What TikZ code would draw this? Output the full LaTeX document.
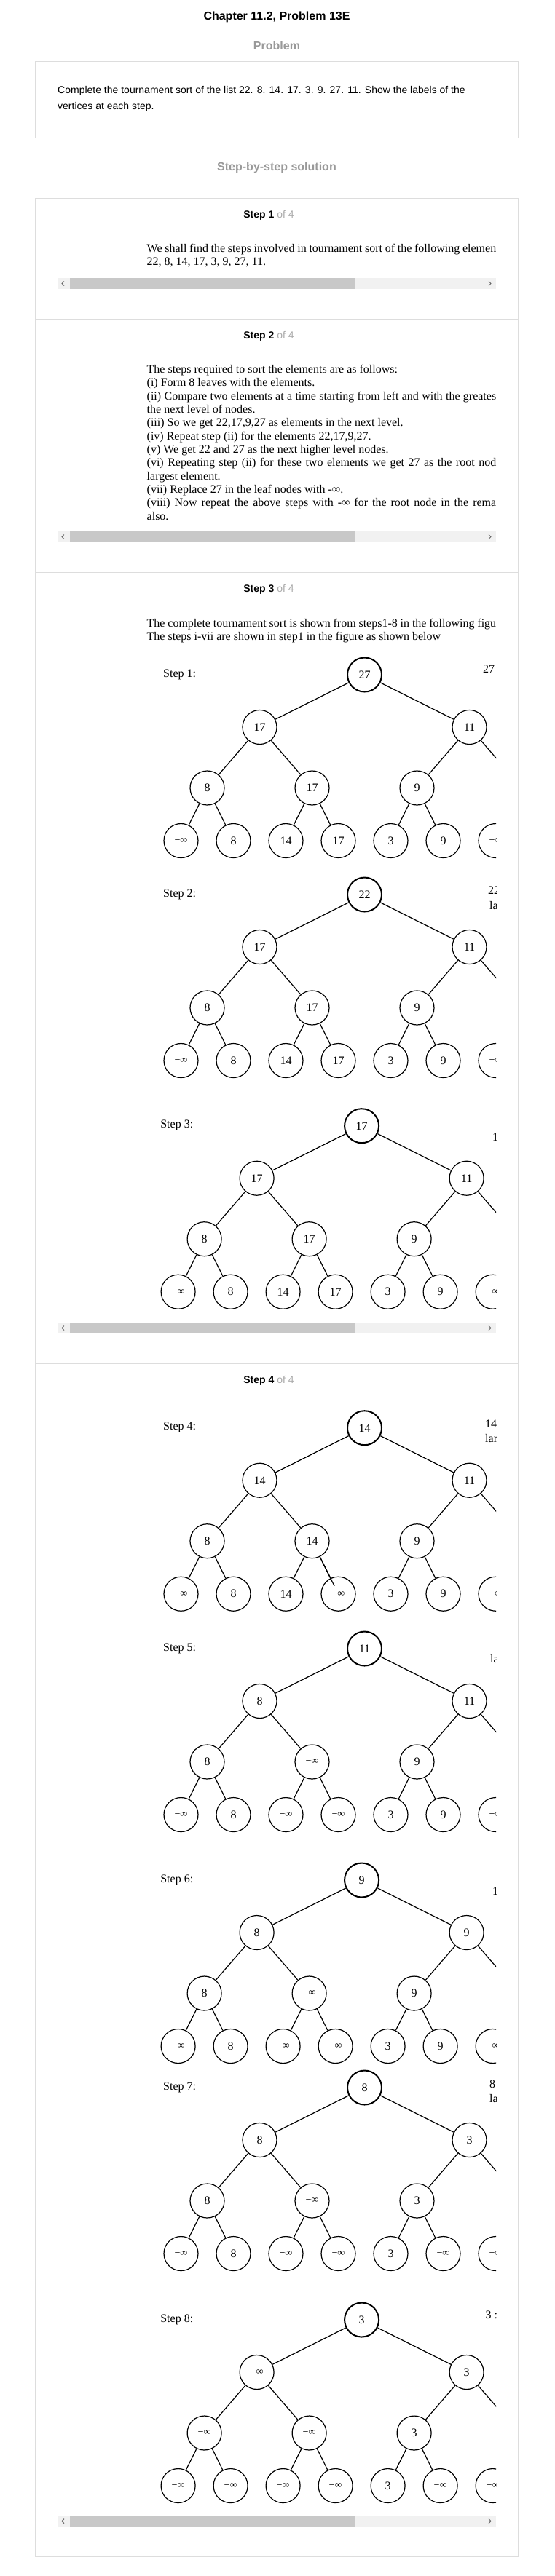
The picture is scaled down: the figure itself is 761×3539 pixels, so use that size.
\documentclass[tikz,border=0pt]{standalone}
\usepackage{fontspec}
\setmainfont{Liberation Serif}
\setsansfont{Liberation Sans}
\usetikzlibrary{positioning}

\definecolor{boxline}{HTML}{DDDDDD}
\definecolor{headgray}{HTML}{999999}
\definecolor{ofgray}{HTML}{AAAAAA}
\definecolor{barbg}{HTML}{F1F1F1}
\definecolor{barthumb}{HTML}{C8C8C8}
\definecolor{arrowgray}{HTML}{666666}

\newcommand{\neginf}{{\fontsize{14}{14}\selectfont −∞}}

\tikzset{
  vert/.style={circle, draw, line width=1.2pt, minimum size=47pt, inner sep=0pt, font=\fontsize{16}{16}\selectfont},
  rootvert/.style={vert, line width=2pt},
  edge/.style={line width=1.2pt},
  body/.style={anchor=base west, inner sep=0pt, font=\fontsize{16}{16}\selectfont},
  title/.style={anchor=base, inner sep=0pt, font=\sffamily\bfseries\fontsize{16}{16}\selectfont},
  subhead/.style={title, text=headgray},
  stephead/.style={anchor=base, inner sep=0pt, font=\sffamily\fontsize{14}{14}\selectfont},
  sanstext/.style={anchor=base west, inner sep=0pt, font=\sffamily\fontsize{14}{14}\selectfont},
  boxrule/.style={draw=boxline, line width=1pt},
}

% one tournament tree: name, root x, root y, step, root, level 1, level 2, leaves
\newcommand{\tourtree}[8]{%
  \node[body] (#1-lab) at ({#2-276.5},{#3+3}) {Step #4:};
  \node[rootvert] (#1-0-0) at (#2,#3) {#5};
  \foreach \lab [count=\k from 0] in {#6}
    \node[vert] (#1-1-\k) at ({#2-144+288*\k},{#3+72}) {\lab};
  \foreach \lab [count=\k from 0] in {#7}
    \node[vert] (#1-2-\k) at ({#2-216+144*\k},{#3+155.5}) {\lab};
  \coordinate (#1-2-3) at ({#2+216},{#3+155.5});
  \foreach \lab [count=\k from 0] in {#8}
    \node[vert] (#1-3-\k) at ({#2-252+72*\k},{#3+228}) {\lab};
  \foreach \k in {0,1}
    \draw[edge] (#1-0-0) -- (#1-1-\k);
  \foreach \k [evaluate=\k as \p using {int(\k/2)}] in {0,...,3}
    \draw[edge] (#1-1-\p) -- (#1-2-\k);
  \foreach \k [evaluate=\k as \p using {int(\k/2)}] in {0,...,6}
    \draw[edge] (#1-2-\p) -- (#1-3-\k);
}

% scroll bar under a step
\newcommand{\scrollbar}[1]{%
  \fill[barbg] (79,#1) rectangle (681,{#1+15});
  \fill[barthumb] (96,#1) rectangle (488,{#1+15});
  \draw[arrowgray, line width=1pt] (88,{#1+4.5}) -- (85,{#1+7.5}) -- (88,{#1+10.5});
  \draw[arrowgray, line width=1pt] (671,{#1+4.5}) -- (674,{#1+7.5}) -- (671,{#1+10.5});
}

\begin{document}
\begin{tikzpicture}[x=1pt, y=-1pt]
\useasboundingbox[fill=white] (0,0) rectangle (761,3539);

% problem
\node[title] (chap) at (380,27.3) {Chapter 11.2, Problem 13E};
\node[subhead] (prob) at (380,68) {Problem};
\draw[boxrule] (48.5,84) rectangle (711.5,189);
\node[sanstext] (q1) at (79,128.3) {Complete the tournament sort of the list 22. 8. 14. 17. 3. 9. 27. 11. Show the labels of the};
\node[sanstext] (q2) at (79,150.7) {vertices at each step.};
\node[subhead] (sol) at (380,234) {Step-by-step solution};

% solution box
\draw[boxrule] (48.5,272.7) rectangle (711.5,3512);
\foreach \y in {438,786,1873}
  \draw[boxrule] (48.5,\y) -- (711.5,\y);

% step 1
\node[stephead] (h1) at (369,299.3) {\textbf{Step 1} \textcolor{ofgray}{of 4}};
\begin{scope}
  \clip (79,310) rectangle (681,381);
  \node[body] (t1a) at (201.5,346) {\makebox[479.5pt][s]{We shall find the steps involved in tournament sort of the following elemen}};
  \node[body] (t1b) at (201.5,364) {22, 8, 14, 17, 3, 9, 27, 11.};
\end{scope}
\scrollbar{382}

% step 2
\node[stephead] (h2) at (369,465) {\textbf{Step 2} \textcolor{ofgray}{of 4}};
\begin{scope}
  \clip (79,480) rectangle (681,729);
  \foreach \ln [count=\i from 0] in {%
    {The steps required to sort the elements are as follows:},
    {(i) Form 8 leaves with the elements.},
    {\makebox[479.5pt][s]{(ii) Compare two elements at a time starting from left and with the greates}},
    {the next level of nodes.},
    {(iii) So we get 22,17,9,27 as elements in the next level.},
    {(iv) Repeat step (ii) for the elements 22,17,9,27.},
    {(v) We get 22 and 27 as the next higher level nodes.},
    {\makebox[479.5pt][s]{(vi) Repeating step (ii) for these two elements we get 27 as the root nod}},
    {largest element.},
    {(vii) Replace 27 in the leaf nodes with -∞.},
    {\makebox[479.5pt][s]{(viii) Now repeat the above steps with -∞ for the root node in the rema}},
    {also.}}
    \node[body] (t2-\i) at (201.5,{512.3+18.35*\i}) {\ln};
\end{scope}
\scrollbar{730}

% step 3
\node[stephead] (h3) at (369,813.3) {\textbf{Step 3} \textcolor{ofgray}{of 4}};
\begin{scope}
  \clip (79,825) rectangle (681,1816);
  \node[body] (t3a) at (201.5,861) {\makebox[479.5pt][s]{The complete tournament sort is shown from steps1-8 in the following figu}};
  \node[body] (t3b) at (201.5,879) {The steps i-vii are shown in step1 in the figure as shown below};
  \tourtree{s1}{500.5}{927}{1}{27}{17,11}{8,17,9}{\neginf,8,14,17,3,9,\neginf}
  \node[body] (n1) at (663,924) {27};
  \tourtree{s2}{500.5}{1229}{2}{22}{17,11}{8,17,9}{\neginf,8,14,17,3,9,\neginf}
  \node[body] (n2a) at (670,1228) {22};
  \node[body] (n2b) at (672,1249) {la};
  \tourtree{s3}{496.6}{1546.7}{3}{17}{17,11}{8,17,9}{\neginf,8,14,17,3,9,\neginf}
  \node[body] (n3) at (676,1567) {1};
\end{scope}
\scrollbar{1817}

% step 4
\node[stephead] (h4) at (369,1900) {\textbf{Step 4} \textcolor{ofgray}{of 4}};
\begin{scope}
  \clip (79,1905) rectangle (681,3455);
  \tourtree{s4}{500.5}{1961.7}{4}{14}{14,11}{8,14,9}{\neginf,8,14,\neginf,3,9,\neginf}
  \draw[edge, shorten >=-12pt] (s4-2-1) -- (s4-3-3);
  \node[body] (n4a) at (666,1961) {14};
  \node[body] (n4b) at (666,1981) {lar};
  \tourtree{s5}{500.5}{2265}{5}{11}{8,11}{8,\neginf,9}{\neginf,8,\neginf,\neginf,3,9,\neginf}
  \node[body] (n5) at (673,2284) {la};
  \tourtree{s6}{496.6}{2583}{6}{9}{8,9}{8,\neginf,9}{\neginf,8,\neginf,\neginf,3,9,\neginf}
  \node[body] (n6) at (676,2603) {1};
  \tourtree{s7}{500.5}{2868}{7}{8}{8,3}{8,\neginf,3}{\neginf,8,\neginf,\neginf,3,\neginf,\neginf}
  \node[body] (n7a) at (672,2868) {8};
  \node[body] (n7b) at (672,2888) {la};
  \tourtree{s8}{496.6}{3187}{8}{3}{\neginf,3}{\neginf,\neginf,3}{\neginf,\neginf,\neginf,\neginf,3,\neginf,\neginf}
  \node[body] (n8) at (666.5,3185) {3 :};
\end{scope}
\scrollbar{3456}
\end{tikzpicture}
\end{document}
